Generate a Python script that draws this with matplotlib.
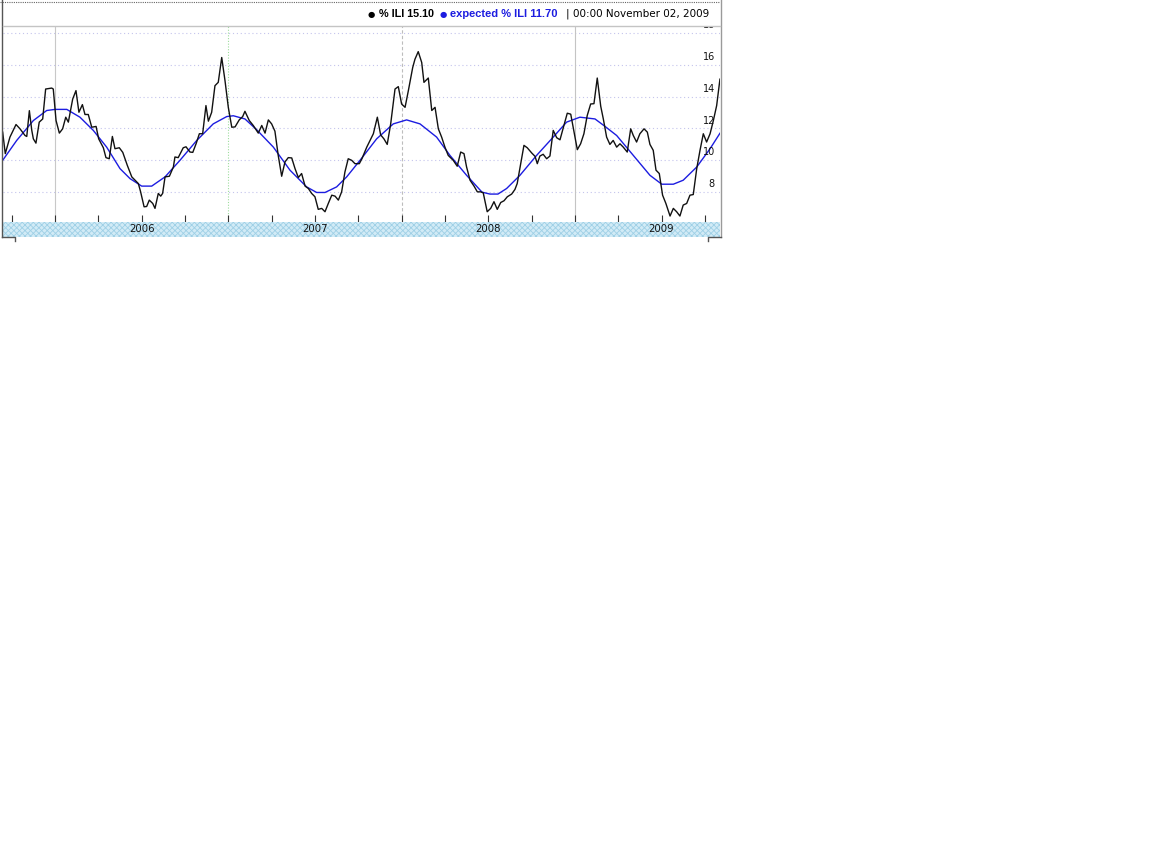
import matplotlib
matplotlib.use("Agg")
import matplotlib.pyplot as plt
from matplotlib.patches import Rectangle

# ---------------- data (decimal years, % ILI) ----------------
ili_t = [2005.698, 2005.713, 2005.740, 2005.775, 2005.798, 2005.827, 2005.837, 2005.852,
         2005.866, 2005.875, 2005.890, 2005.909, 2005.929, 2005.946, 2005.981, 2005.990,
         2006.006, 2006.025, 2006.044, 2006.062, 2006.077, 2006.102, 2006.121, 2006.138,
         2006.158, 2006.173, 2006.192, 2006.212, 2006.237, 2006.252, 2006.279, 2006.294,
         2006.313, 2006.331, 2006.346, 2006.371, 2006.391, 2006.417, 2006.443, 2006.481,
         2006.494, 2006.514, 2006.529, 2006.544, 2006.564, 2006.577, 2006.596, 2006.610,
         2006.621, 2006.635, 2006.660, 2006.683, 2006.692, 2006.711, 2006.740, 2006.756,
         2006.779, 2006.795, 2006.814, 2006.833, 2006.852, 2006.871, 2006.885, 2006.904,
         2006.923, 2006.942, 2006.962, 2006.981, 2007.000, 2007.020, 2007.039, 2007.063,
         2007.083, 2007.096, 2007.121, 2007.144, 2007.173, 2007.193, 2007.212, 2007.231,
         2007.250, 2007.269, 2007.288, 2007.308, 2007.327, 2007.346, 2007.366, 2007.385,
         2007.404, 2007.423, 2007.443, 2007.462, 2007.481, 2007.500, 2007.519, 2007.539,
         2007.558, 2007.577, 2007.597, 2007.616, 2007.635, 2007.654, 2007.673, 2007.692,
         2007.712, 2007.731, 2007.756, 2007.771, 2007.799, 2007.818, 2007.837, 2007.860,
         2007.879, 2007.898, 2007.917, 2007.937, 2007.962, 2007.981, 2008.000, 2008.020,
         2008.039, 2008.064, 2008.077, 2008.096, 2008.116, 2008.129, 2008.154, 2008.174,
         2008.193, 2008.212, 2008.231, 2008.250, 2008.269, 2008.298, 2008.321, 2008.341,
         2008.360, 2008.375, 2008.395, 2008.418, 2008.437, 2008.456, 2008.471, 2008.494,
         2008.514, 2008.533, 2008.552, 2008.572, 2008.591, 2008.610, 2008.635, 2008.654,
         2008.667, 2008.687, 2008.706, 2008.725, 2008.751, 2008.770, 2008.783, 2008.798,
         2008.817, 2008.837, 2008.856, 2008.875, 2008.895, 2008.914, 2008.933, 2008.956,
         2008.976, 2008.995, 2009.014, 2009.033, 2009.052, 2009.071, 2009.091, 2009.110,
         2009.129, 2009.149, 2009.164, 2009.183, 2009.202, 2009.221, 2009.241, 2009.260,
         2009.279, 2009.302, 2009.322, 2009.337, 2009.356, 2009.375, 2009.399, 2009.418,
         2009.433, 2009.452, 2009.468, 2009.487, 2009.506, 2009.525, 2009.549, 2009.568,
         2009.587, 2009.606, 2009.625, 2009.645, 2009.664, 2009.683, 2009.703, 2009.722,
         2009.741, 2009.760, 2009.780, 2009.799, 2009.818, 2009.837]
ili_v = [11.77, 10.42, 11.46, 12.25, 11.98, 11.56, 11.50, 13.12,
         11.88, 11.35, 11.08, 12.40, 12.60, 14.48, 14.54, 14.48,
         12.50, 11.71, 11.98, 12.71, 12.40, 13.85, 14.38, 13.02,
         13.50, 12.88, 12.88, 12.08, 12.13, 11.35, 10.79, 10.17,
         10.10, 11.50, 10.73, 10.79, 10.50, 9.69, 8.96, 8.54,
         8.02, 7.08, 7.10, 7.50, 7.29, 6.98, 7.92, 7.75,
         7.92, 8.96, 9.00, 9.58, 10.21, 10.17, 10.79, 10.85,
         10.52, 10.50, 11.04, 11.67, 11.67, 13.44, 12.46, 13.02,
         14.69, 14.90, 16.46, 15.00, 13.33, 12.08, 12.10, 12.54,
         12.75, 13.08, 12.50, 12.19, 11.71, 12.19, 11.71, 12.54,
         12.29, 11.83, 10.31, 9.00, 9.90, 10.17, 10.15, 9.48,
         8.92, 9.17, 8.38, 8.23, 7.92, 7.71, 6.92, 6.98,
         6.77, 7.29, 7.81, 7.75, 7.50, 8.02, 9.27, 10.10,
         10.00, 9.79, 9.79, 10.10, 10.83, 11.25, 11.67, 12.71,
         11.60, 11.35, 11.00, 12.29, 14.48, 14.63, 13.54, 13.33,
         14.38, 15.83, 16.35, 16.83, 16.15, 14.90, 15.17, 13.13,
         13.33, 11.98, 11.46, 10.83, 10.31, 10.00, 9.63, 10.52,
         10.42, 9.58, 8.75, 8.38, 8.02, 8.02, 7.96, 6.77,
         6.98, 7.40, 6.92, 7.35, 7.46, 7.71, 7.88, 8.17,
         8.54, 9.79, 10.94, 10.79, 10.46, 10.25, 9.79, 10.27,
         10.38, 10.10, 10.27, 11.88, 11.42, 11.29, 12.04, 12.96,
         12.90, 11.77, 10.67, 11.04, 11.67, 12.81, 13.54, 13.56,
         15.17, 13.40, 12.60, 11.46, 11.00, 11.25, 10.83, 11.04,
         10.83, 10.52, 11.98, 11.56, 11.15, 11.67, 11.98, 11.77,
         11.00, 10.63, 9.38, 9.17, 7.81, 7.29, 6.50, 6.98,
         6.77, 6.50, 7.19, 7.29, 7.81, 7.85, 9.48, 10.63,
         11.67, 11.15, 11.67, 12.50, 13.44, 15.10]

exp_t = [2005.698, 2005.779, 2005.875, 2005.952, 2006.000, 2006.068, 2006.144, 2006.221,
         2006.298, 2006.375, 2006.433, 2006.500, 2006.558, 2006.635, 2006.721, 2006.818,
         2006.913, 2006.991, 2007.029, 2007.096, 2007.164, 2007.260, 2007.356, 2007.452,
         2007.510, 2007.558, 2007.625, 2007.683, 2007.760, 2007.856, 2007.952, 2008.029,
         2008.106, 2008.202, 2008.279, 2008.375, 2008.464, 2008.510, 2008.556, 2008.606,
         2008.683, 2008.779, 2008.875, 2008.952, 2009.029, 2009.116, 2009.174, 2009.241,
         2009.337, 2009.433, 2009.501, 2009.568, 2009.625, 2009.703, 2009.780, 2009.837]
exp_v = [10.00, 11.25, 12.50, 13.13, 13.20, 13.20, 12.71, 11.88,
         10.83, 9.48, 8.85, 8.38, 8.38, 8.96, 10.00, 11.25,
         12.29, 12.75, 12.80, 12.60, 11.92, 10.83, 9.38, 8.33,
         7.98, 7.98, 8.33, 8.96, 10.00, 11.35, 12.29, 12.54,
         12.29, 11.46, 10.31, 9.06, 8.00, 7.88, 7.88, 8.23,
         9.06, 10.31, 11.46, 12.40, 12.71, 12.60, 12.13, 11.56,
         10.31, 9.06, 8.50, 8.50, 8.75, 9.58, 10.73, 11.70]

years = [2006, 2007, 2008, 2009]
y_ticks = [8, 10, 12, 14, 16, 18]
last_date = "00:00 November 02, 2009"

# ---------------- figure ----------------
W, H = 1152, 864
fig = plt.figure(figsize=(W / 100, H / 100), dpi=100)
fig.patch.set_facecolor("white")

def frac(x0, y0, x1, y1):
    return [x0 / W, 1 - y1 / H, (x1 - x0) / W, (y1 - y0) / H]

XL = (2005.6999, 2009.8373)
YL = (6.125, 18.44)

ax = fig.add_axes(frac(3, 26, 720, 222))
ax.set_xlim(*XL)
ax.set_ylim(*YL)
for s in ax.spines.values():
    s.set_visible(False)

# horizontal grid
for v in y_ticks:
    ax.axhline(v, color="#c4c4ec", lw=0.8, ls=(0, (1, 2.5)), zorder=1)
    ax.text(0.993, v + 0.5, str(v), transform=ax.get_yaxis_transform(),
            ha="right", va="center", fontsize=7, color="#111111",
            family="DejaVu Sans", zorder=5, clip_on=True)

# vertical year lines
vstyles = [dict(color="#c8c8c8", ls="-"), dict(color="#9edc9e", ls=(0, (1, 1.5))),
           dict(color="#bdbdbd", ls=(0, (3, 2))), dict(color="#c4c4c4", ls="-")]
for yr, st in zip(years, vstyles):
    ax.axvline(yr, lw=0.8, zorder=1, **st)

ax.plot(exp_t, exp_v, color="#1c1ce0", lw=1.0, zorder=3)
ax.plot(ili_t, ili_v, color="#111111", lw=1.0, zorder=4)

quarters = [y + q for y in range(2005, 2010) for q in (0, 0.25, 0.5, 0.75)
            if XL[0] < y + q < XL[1]]
ax.set_xticks(quarters)
ax.tick_params(axis="x", direction="in", length=5, width=0.8, color="#333333",
               labelbottom=False)
ax.set_yticks([])

# bottom band with year labels
bax = fig.add_axes(frac(3, 222, 720, 237))
bax.set_xlim(*XL)
bax.set_ylim(0, 1)
bax.axis("off")
plt.rcParams["hatch.linewidth"] = 0.6
bax.add_patch(Rectangle((0, 0), 1, 1, transform=bax.transAxes, facecolor="#d2ebf6",
                        edgecolor="#9fd0e6", hatch="xxxxxx", lw=0, zorder=0))
for yr in years:
    bax.text(yr + 0.5, 0.5, str(yr), ha="center", va="center", fontsize=7.3,
             color="#111111", family="DejaVu Sans", zorder=2)

# overlay for frame and header
ov = fig.add_axes([0, 0, 1, 1], zorder=10)
ov.set_xlim(0, W)
ov.set_ylim(H, 0)
ov.axis("off")
ov.patch.set_alpha(0)
ov.plot([0, 720], [1.5, 1.5], color="#666666", lw=0.8, ls=(0, (1, 1)))
ov.plot([1.8, 1.8], [0, 237], color="#555555", lw=1.0)
ov.plot([720.5, 720.5], [0, 237], color="#9a9a9a", lw=1.0)
ov.plot([3, 720], [26, 26], color="#c4c4c4", lw=1.0)
ov.plot([1.8, 15, 15], [237, 237, 241], color="#555555", lw=1.0)
ov.plot([720.5, 708, 708], [237, 237, 241], color="#555555", lw=1.0)

# header legend
ili_label = f"% ILI {ili_v[-1]:.2f}"
exp_label = f"expected % ILI {exp_v[-1]:.2f}"
ov.text(368, 14, "\u25cf", fontsize=6, color="#000000", va="center", ha="left",
        family="DejaVu Sans")
ov.text(379, 14, ili_label, fontsize=7.8, fontweight="bold",
        color="#000000", va="center", ha="left", family="Liberation Sans")
ov.text(440, 14, "\u25cf", fontsize=6, color="#1c1ce0", va="center", ha="left",
        family="DejaVu Sans")
ov.text(450, 14, exp_label, fontsize=8, fontweight="bold",
        color="#1c1ce0", va="center", ha="left", family="Liberation Sans")
ov.text(566, 14, "|", fontsize=7.5, color="#000000", va="center", ha="left",
        family="DejaVu Sans")
ov.text(573, 14, last_date, fontsize=7.5, color="#000000", va="center", ha="left",
        family="DejaVu Sans")

fig.savefig("out.png", dpi=100, facecolor="white")
